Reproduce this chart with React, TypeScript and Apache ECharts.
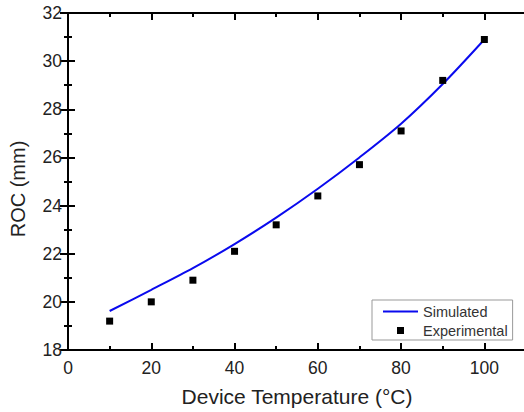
import React, { useEffect, useRef } from "react";
import * as echarts from "echarts";

const temps = [10, 20, 30, 40, 50, 60, 70, 80, 90, 100];
const simulated = [19.62, 20.5, 21.4, 22.4, 23.5, 24.7, 26.0, 27.4, 29.05, 30.9];
const experimental = [19.2, 20.0, 20.9, 22.1, 23.2, 24.4, 25.7, 27.1, 29.2, 30.9];
const xName = "Device Temperature (°C)";
const yName = "ROC (mm)";
const seriesNames = ["Simulated", "Experimental"];

const FONT = "'Liberation Sans', Arial, sans-serif";

export default function App() {
  const ref = useRef<HTMLDivElement>(null);
  useEffect(() => {
    if (!ref.current) return;
    const chart = echarts.init(ref.current, undefined, { renderer: "svg" });
    const axisLine = { show: true, lineStyle: { color: "#000", width: 2 } };
    const hiddenLabel = { show: false };
    const xBase = { type: "value", min: 0, max: 110, splitLine: { show: false } };
    const option: any = {
      animation: false,
      backgroundColor: "#fff",
      textStyle: { fontFamily: FONT },
      grid: {
        left: 68,
        top: 13,
        width: 458,
        height: 337,
        containLabel: false,
        outerBoundsMode: "none",
      },
      legend: {
        orient: "vertical",
        left: 372,
        top: 300,
        padding: [4, 5, 2, 11],
        itemGap: 4,
        itemWidth: 35,
        itemHeight: 7,
        symbolKeepAspect: true,
        borderColor: "#999",
        borderWidth: 1,
        borderRadius: 0,
        backgroundColor: "#fff",
        textStyle: { fontFamily: FONT, fontSize: 14.5, color: "#333" },
        data: [
          { name: seriesNames[0], icon: "path://M0,0 L35,0 L35,2 L0,2 Z" },
          { name: seriesNames[1], icon: "path://M0,0 L7,0 L7,7 L0,7 Z" },
        ],
      },
      xAxis: [
        {
          ...xBase,
          position: "bottom",
          interval: 20,
          axisLine,
          axisTick: { show: true, inside: true, length: 7, lineStyle: { color: "#000", width: 2 } },
          axisLabel: {
            show: true,
            fontSize: 17.5,
            color: "#222",
            margin: 9,
            fontFamily: FONT,
            formatter: (v: number) => (v > 100 ? "" : String(v)),
          },
          name: xName,
          nameLocation: "middle",
          nameGap: 36,
          nameTextStyle: { fontSize: 21, color: "#222", fontFamily: FONT },
        },
        {
          ...xBase,
          position: "bottom",
          interval: 10,
          axisLine: { show: false },
          axisTick: { show: true, inside: true, length: 4, lineStyle: { color: "#000", width: 2 } },
          axisLabel: hiddenLabel,
        },
        {
          ...xBase,
          position: "top",
          interval: 20,
          axisLine,
          axisTick: { show: true, inside: true, length: 7, lineStyle: { color: "#000", width: 2 } },
          axisLabel: hiddenLabel,
        },
        {
          ...xBase,
          position: "top",
          interval: 10,
          axisLine: { show: false },
          axisTick: { show: true, inside: true, length: 4, lineStyle: { color: "#000", width: 2 } },
          axisLabel: hiddenLabel,
        },
      ],
      yAxis: [
        {
          type: "value",
          min: 18,
          max: 32,
          interval: 2,
          position: "left",
          splitLine: { show: false },
          axisLine,
          axisTick: { show: true, inside: true, length: 7, lineStyle: { color: "#000", width: 2 } },
          minorTick: { show: true, splitNumber: 2, length: 4, lineStyle: { color: "#000", width: 2 } },
          minorSplitLine: { show: false },
          axisLabel: { fontSize: 17.5, color: "#222", margin: 6, fontFamily: FONT },
          name: yName,
          nameLocation: "middle",
          nameGap: 40,
          nameRotate: 90,
          nameTextStyle: { fontSize: 20, color: "#222", fontFamily: FONT, padding: [0, 15, 0, 0] },
        },
        {
          type: "value",
          min: 18,
          max: 32,
          interval: 2,
          position: "right",
          splitLine: { show: false },
          axisLine: { show: true, lineStyle: { color: "#000", width: 2 } },
          axisTick: { show: true, inside: true, length: 8, lineStyle: { color: "#000", width: 2 } },
          minorTick: { show: true, splitNumber: 2, length: 4, lineStyle: { color: "#000", width: 2 } },
          axisLabel: hiddenLabel,
        },
      ],
      series: [
        {
          name: seriesNames[0],
          type: "line",
          xAxisIndex: 0,
          yAxisIndex: 0,
          data: temps.map((t, i) => [t, simulated[i]]),
          smooth: 0.3,
          symbol: "none",
          lineStyle: { color: "#0a0aee", width: 2 },
          itemStyle: { color: "#0a0aee" },
          z: 2,
        },
        {
          name: seriesNames[1],
          type: "scatter",
          xAxisIndex: 0,
          yAxisIndex: 0,
          data: temps.map((t, i) => [t, experimental[i]]),
          symbol: "rect",
          symbolSize: 7,
          itemStyle: { color: "#000", opacity: 1 },
          z: 3,
        },
      ],
    };
    chart.setOption(option);
    return () => chart.dispose();
  }, []);
  return (
    <div
      ref={ref}
      style={{ position: "fixed", left: 0, top: 0, width: 524, height: 412, background: "#fff" }}
    />
  );
}
